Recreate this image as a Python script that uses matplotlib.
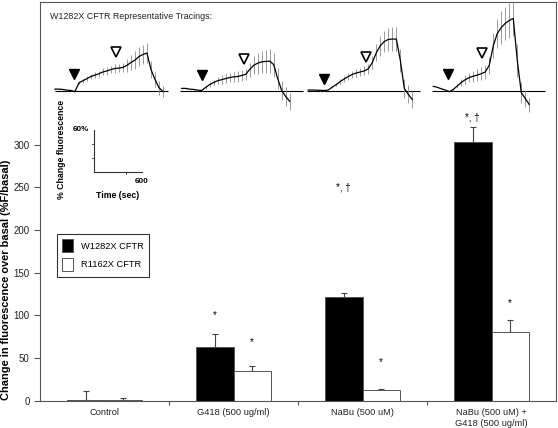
import numpy as np
import matplotlib.pyplot as plt

plt.rcParams['font.family'] = ['Liberation Sans', 'DejaVu Sans']

# bar chart data
groups = ['Control', 'G418 (500 ug/ml)', 'NaBu (500 uM)', 'NaBu (500 uM) +\nG418 (500 ug/ml)']
w1282x = [1, 63, 122, 303]
w1282x_err = [10, 15, 4.5, 17.5]
r1162x = [1, 35, 12, 81]
r1162x_err = [2, 5.5, 1.5, 14]
w_marks = ['', '*', '*, \u2020', '*, \u2020']
r_marks = ['', '*', '*', '*']
w_mark_y = [0, 100, 250, 332]
r_mark_y = [0, 69, 45, 114]

# representative tracings (% change fluorescence, one sample every 50 sec)
trace_step = 50
trace1 = [2, 2, 1.5, 0.5, 0, -1.5, 11, 14, 17, 20, 22, 24, 26.5, 28, 30, 31.5, 32, 33,
          36, 40, 43.5, 48.5, 51.5, 53.5, 30, 16, 4, -1.5]
trace1_err = [0.7, 0.7, 0.7, 0.7, 0.7, 0.7, 2, 3, 3.5, 4, 4, 4.5, 5, 5.5, 5.5, 6, 6, 7,
              9, 11, 12.5, 13.5, 14, 14, 12, 11, 10, 8]
trace2 = [3, 3, 2, 1.5, 0.5, 0, 4.5, 8.5, 11.5, 14, 15.5, 17, 18.5, 19.5, 20, 21.5, 23,
          30, 36, 39, 41, 41.5, 42, 37, 17, 0, -8.5, -15.5]
trace2_err = [0.7, 0.7, 0.7, 0.7, 0.7, 0.7, 2, 3, 4, 5, 6, 6.5, 7, 7, 7.5, 7.5, 8,
              10, 13, 15, 16, 16.5, 17, 17, 15, 14, 13, 12]
trace3 = [0.7, 0.7, 0.4, 0.3, 0, 0.7, 5, 8.5, 13, 16.5, 20, 23, 25, 26.5, 28, 31, 40,
          54, 64, 70, 73, 73.5, 73.5, 43, 3, -5.5, -13]
trace3_err = [0.5, 0.5, 0.5, 0.5, 0.5, 0.5, 1.5, 2.5, 3.5, 4.5, 5, 5.5, 6, 6, 6.5, 7, 9,
              12, 14, 15.5, 16.5, 17, 17, 16, 14, 13, 12]
trace4 = [6, 4.5, 2.5, 0.7, -1.7, 1.5, 6.5, 11.5, 15.5, 18.5, 20.5, 22, 24, 26.5, 36,
          64, 81.5, 90, 96, 100, 103, 43, -3, -11.5, -20]
trace4_err = [0, 0, 0, 0, 0, 1.5, 3, 5, 6, 7, 8, 8.5, 9, 9.5, 12, 18, 21, 23, 24, 25,
              25, 23, 15, 12, 10]
traces = [trace1, trace2, trace3, trace4]
trace_errs = [trace1_err, trace2_err, trace3_err, trace4_err]
# addition times (sec from trace start) and marker heights (%)
nabu_add = [238, 250, 196, 188]
nabu_mark = [23, 22, 16, 24]
g418_add = [759, 779, 721, 613]
g418_mark = [55, 45, 48, 53]

fig = plt.figure(figsize=(5.58, 4.28), dpi=100)
ax = fig.add_axes([40 / 558, 27.3 / 428, 516 / 558, 398.7 / 428])

x = np.arange(len(groups)) + 0.5
bw = 0.29
ax.bar(x - bw / 2, w1282x, bw, color='black', edgecolor='#555555', linewidth=0.7,
       label='W1282X CFTR', zorder=2)
ax.bar(x + bw / 2, r1162x, bw, color='white', edgecolor='#555555', linewidth=0.7,
       label='R1162X CFTR', zorder=2)
ax.errorbar(x - bw / 2, w1282x, yerr=[np.zeros(4), w1282x_err], fmt='none',
            ecolor='#444444', elinewidth=0.8, capsize=2.5, capthick=0.8, zorder=1)
ax.errorbar(x + bw / 2, r1162x, yerr=[np.zeros(4), r1162x_err], fmt='none',
            ecolor='#444444', elinewidth=0.8, capsize=2.5, capthick=0.8, zorder=1)
for i in range(len(groups)):
    if w_marks[i]:
        ax.text(x[i] - bw / 2, w_mark_y[i], w_marks[i], ha='center', va='center', fontsize=7)
    if r_marks[i]:
        ax.text(x[i] + bw / 2, r_mark_y[i], r_marks[i], ha='center', va='center', fontsize=7)

ax.set_xlim(0, 4)
ax.set_ylim(0, 467)
ax.set_yticks(np.arange(0, 301, 50))
ax.set_xticks(x)
ax.set_xticklabels(groups, fontsize=6.7, color='#222222', linespacing=1.35)
ax.set_xticks([1, 2, 3], minor=True)
ax.tick_params(axis='x', which='major', length=0, pad=5)
ax.tick_params(axis='x', which='minor', length=3, width=0.8, color='#555555')
ax.tick_params(axis='y', length=4, width=0.8, color='#555555', labelsize=7, labelcolor='#222222')
for s in ax.spines.values():
    s.set_color('#555555')
    s.set_linewidth(0.8)
ax.set_ylabel('Change in fluorescence over basal (%F/basal)', fontsize=7.9, fontweight='bold')
ax.yaxis.set_label_coords(-0.056, 0.303)

leg = ax.legend(loc='upper left', bbox_to_anchor=(0.023, 0.431), fontsize=6.7, frameon=True,
                fancybox=False, edgecolor='black', handlelength=1.2, handleheight=1.8,
                borderpad=0.6, labelspacing=0.6, handletextpad=0.8)
leg.get_frame().set_linewidth(0.8)

# overlay for tracings (x in sec, y in % change; 12.5 sec and 1.43 % per pixel)
sec_px = 12.5
pct_px = 60 / 42
base_px = 90.5
ov = fig.add_axes([0, 0, 1, 1], zorder=3)
ov.patch.set_alpha(0)
ov.axis('off')
ov.set_xlim(0, 558 * sec_px)
ov.set_ylim((base_px - 428) * pct_px, base_px * pct_px)

trace_start = [687, 2271, 3854, 5416]
baseline_span = [(687, 2100), (2250, 3788), (3838, 5250), (5400, 6812)]
for k in range(4):
    y = np.array(traces[k])
    e = np.array(trace_errs[k])
    t = trace_start[k] + np.arange(len(y)) * trace_step
    ov.hlines(0, *baseline_span[k], color='black', linewidth=0.8)
    ov.vlines(t, y - e, y + e, color='#8a8a8a', linewidth=0.6)
    ov.plot(t, y, color='black', linewidth=0.9)
    ov.plot(trace_start[k] + nabu_add[k], nabu_mark[k], marker='v', color='black',
            markersize=6.5, linestyle='none')
    ov.plot(trace_start[k] + g418_add[k], g418_mark[k], marker='v', markerfacecolor='white',
            markeredgecolor='black', markeredgewidth=1.2, markersize=6.5, linestyle='none')

ov.text(625, 106, 'W1282X CFTR Representative Tracings:', fontsize=6.4, color='#222222',
        ha='left', va='center')

# scale bar
sb_x, sb_y = 1175, -116.4
ov.plot([sb_x, sb_x, sb_x + 600], [sb_y + 60, sb_y, sb_y], color='#333333', linewidth=0.8)
ov.plot([sb_x - 25, sb_x], [sb_y + 20, sb_y + 20], color='#333333', linewidth=0.6)
ov.plot([sb_x - 25, sb_x], [sb_y + 40, sb_y + 40], color='#333333', linewidth=0.6)
ov.plot([sb_x + 400, sb_x + 400], [sb_y, sb_y - 3], color='#333333', linewidth=0.6)
ov.text(sb_x - 60, sb_y + 60, '60%', fontsize=5.8, fontweight='bold', ha='right', va='center')
ov.text(sb_x + 600, sb_y - 14, '600', fontsize=5.8, fontweight='bold', ha='center', va='center')
ov.text(sb_x + 300, sb_y - 33, 'Time (sec)', fontsize=6.3, fontweight='bold', ha='center', va='center')
ov.text(775, -84, '% Change fluorescence', fontsize=6.3, fontweight='bold', rotation=90,
        ha='center', va='center')

fig.savefig('out.png', dpi=100)
